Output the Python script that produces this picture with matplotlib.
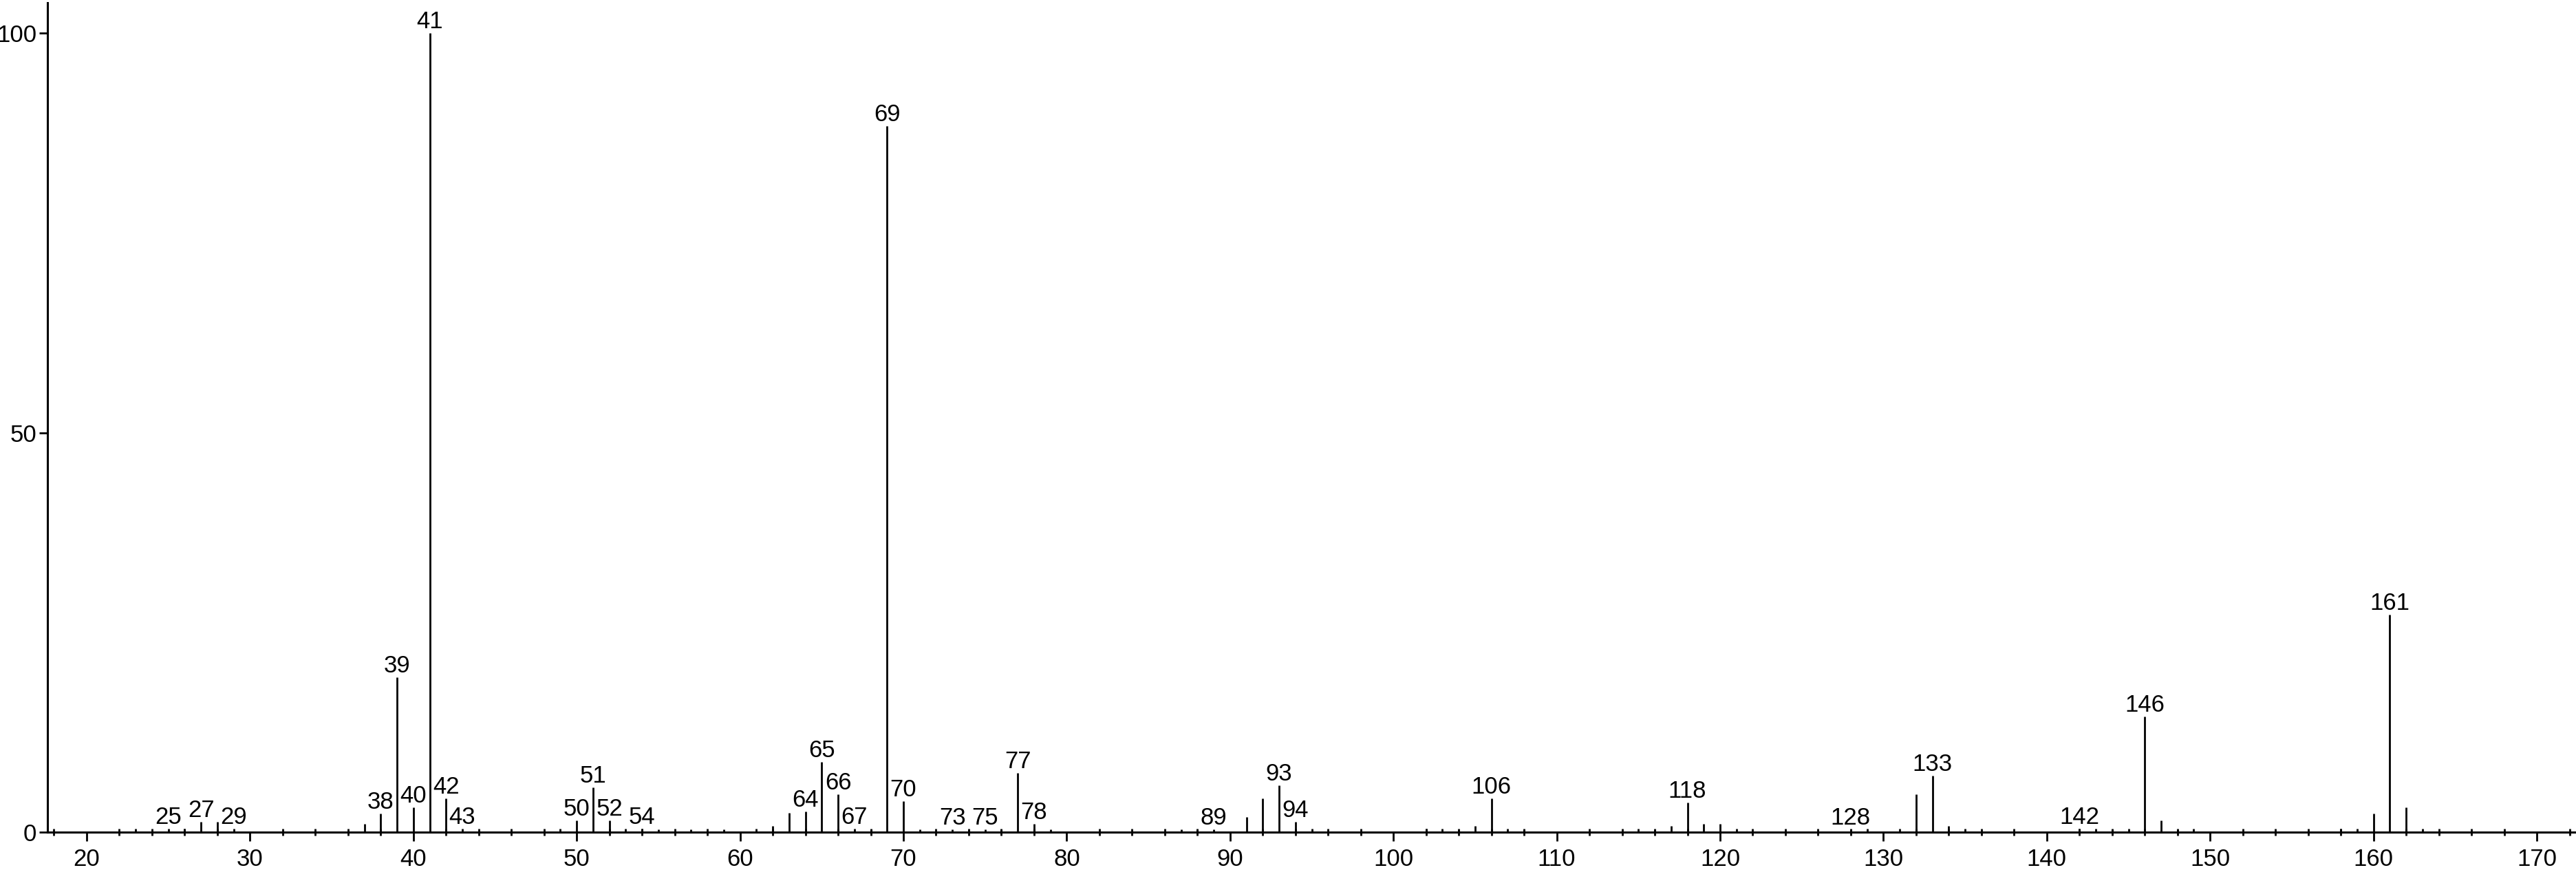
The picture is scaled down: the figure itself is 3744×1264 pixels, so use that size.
import matplotlib
matplotlib.use("Agg")
import matplotlib.pyplot as plt
from matplotlib.ticker import MultipleLocator, FixedLocator

plt.rcParams["font.family"] = ["Liberation Sans", "DejaVu Sans"]
font_size = 25

# m/z and relative intensity (%) of the peaks
mz = [23, 25, 26, 27, 28, 29, 37, 38, 39, 40, 41, 42, 43,
      49, 50, 51, 52, 53, 54, 55, 57, 59, 61, 62, 63, 64, 65, 66, 67, 68,
      69, 70, 71, 73, 74, 75, 76, 77, 78, 79, 87, 88, 89, 91, 92, 93, 94, 95,
      102, 103, 104, 105, 106, 107, 108, 115, 116, 117, 118, 119, 120, 121,
      128, 129, 131, 132, 133, 134, 135, 142, 143, 144, 145, 146, 147, 148,
      149, 158, 159, 160, 161, 162, 163]
intensity = [0.45, 0.4, 0.4, 1.3, 1.3, 0.4, 1.0, 2.3, 19.4, 3.1, 100, 4.2, 0.45,
             0.4, 1.5, 5.6, 1.5, 0.4, 0.4, 0.35, 0.35, 0.35, 0.4, 0.75, 2.4, 2.6, 8.8, 4.7, 0.4, 0.35,
             88.4, 3.9, 0.35, 0.35, 0.35, 0.35, 0.35, 7.4, 1.0, 0.35, 0.35, 0.35, 0.35, 1.9, 4.2, 5.9, 1.3, 0.4,
             0.4, 0.4, 0.35, 0.75, 4.2, 0.4, 0.35, 0.4, 0.35, 0.75, 3.7, 1.0, 1.0, 0.4,
             0.35, 0.4, 0.4, 4.7, 7.1, 0.75, 0.4, 0.4, 0.4, 0.35, 0.4, 14.5, 1.5, 0.35,
             0.4, 0.4, 0.4, 2.3, 27.2, 3.1, 0.4]

# peaks that carry an m/z label
labelled = [25, 27, 29, 38, 39, 40, 41, 42, 43, 50, 51, 52, 54, 64, 65, 66, 67,
            69, 70, 73, 75, 77, 78, 89, 93, 94, 106, 118, 128, 133, 142, 146, 161]

x_ticks = [20, 30, 40, 50, 60, 70, 80, 90, 100, 110, 120, 130, 140, 150, 160, 170]
y_ticks = [0, 50, 100]

W, H = 3744, 1264
fig = plt.figure(figsize=(W / 100, H / 100), dpi=100)
ax = fig.add_axes([69 / W, 1 - 1209 / H, 1 - 69 / W, (1209 - 4) / H])

ax.vlines(mz, 0, intensity, colors="black", linewidth=2.0)

peak_height = dict(zip(mz, intensity))
for m in labelled:
    ax.annotate(str(m), xy=(m, peak_height[m]), xytext=(0, 5),
                textcoords="offset points", ha="center", va="baseline",
                fontsize=font_size, color="black", annotation_clip=False)

ax.set_xlim(17.6, 172.4)
ax.set_ylim(0, 103.8)

for side in ("top", "right"):
    ax.spines[side].set_visible(False)
for side in ("left", "bottom"):
    ax.spines[side].set_linewidth(2.2)
    ax.spines[side].set_color("black")

ax.xaxis.set_major_locator(FixedLocator(x_ticks))
ax.xaxis.set_minor_locator(MultipleLocator(2))
ax.yaxis.set_major_locator(FixedLocator(y_ticks))
ax.yaxis.set_minor_locator(FixedLocator([]))

ax.tick_params(axis="x", which="major", direction="out", length=9.5, width=2.0,
               pad=7, labelsize=font_size)
ax.tick_params(axis="x", which="minor", direction="inout", length=7, width=2.0)
ax.tick_params(axis="y", which="major", direction="out", length=8.5, width=2.0,
               pad=3, labelsize=font_size)

fig.savefig("out.png", dpi=100)
